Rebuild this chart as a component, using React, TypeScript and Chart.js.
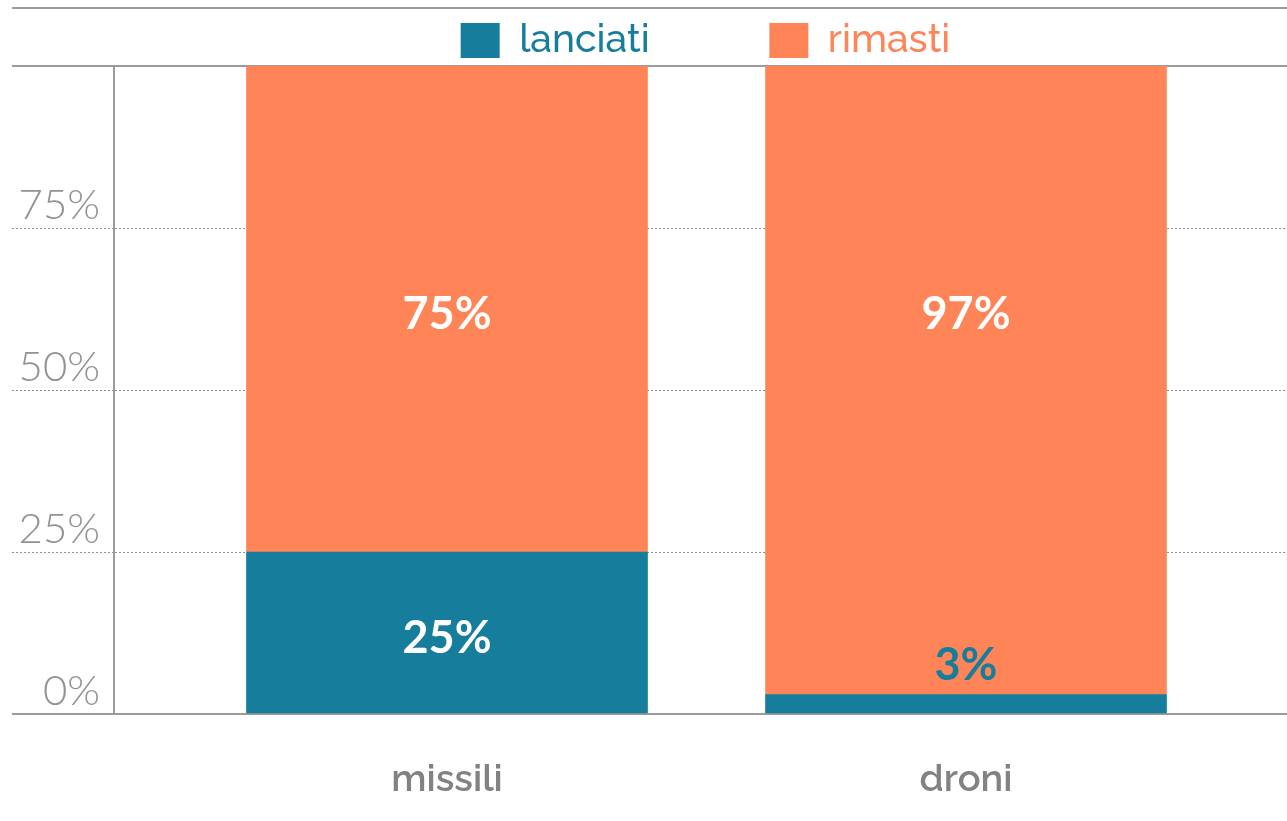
import React, { useEffect, useRef } from 'react';
import { Chart, registerables } from 'chart.js';

Chart.register(...registerables);

const categories = ['missili', 'droni'];
const seriesLabels = ['lanciati', 'rimasti'];
const lanciati = [25, 3];
const rimasti = [75, 97];
const yTicks = [0, 25, 50, 75, 100];

const TEAL = '#167D9C';
const ORANGE = '#FF8559';
const LINE_GRAY = '#9b9b9b';
const FONT = 'Raleway, Lato, "Open Sans", sans-serif';
const NUM_FONT = 'Lato, "Open Sans", sans-serif';

export default function App() {
  const ref = useRef<HTMLCanvasElement | null>(null);

  useEffect(() => {
    document.body.style.margin = '0';
    if (!ref.current) return;

    const topRule = {
      id: 'topRule',
      afterLayout(chart: any) {
        // centre the legend over the plot area
        const lg = chart.legend;
        if (lg) {
          lg.left = chart.chartArea.left + 10;
        }
      },
      afterDraw(chart: any) {
        const { ctx } = chart;
        ctx.save();
        ctx.strokeStyle = LINE_GRAY;
        ctx.lineWidth = 2;
        ctx.beginPath();
        ctx.moveTo(12, 8);
        ctx.lineTo(chart.width, 8);
        ctx.stroke();
        ctx.restore();
      },
    };

    const valueLabels = {
      id: 'valueLabels',
      afterDatasetsDraw(chart: any) {
        const { ctx } = chart;
        const yScale = chart.scales.y;
        const metaL = chart.getDatasetMeta(0);
        const metaR = chart.getDatasetMeta(1);
        ctx.save();
        ctx.font = `bold 45px ${NUM_FONT}`;
        ctx.textAlign = 'center';
        ctx.textBaseline = 'alphabetic';
        const maxL = Math.max(...lanciati);
        const rimY = yScale.getPixelForValue((100 + maxL) / 2);
        metaR.data.forEach((el: any, i: number) => {
          ctx.fillStyle = '#ffffff';
          ctx.fillText(rimasti[i] + '%', el.x, rimY + 20);
        });
        metaL.data.forEach((el: any, i: number) => {
          const h = el.base - el.y;
          if (h > 60) {
            ctx.fillStyle = '#ffffff';
            ctx.fillText(lanciati[i] + '%', el.x, (el.y + el.base) / 2 + 20);
          } else {
            ctx.fillStyle = TEAL;
            ctx.fillText(lanciati[i] + '%', el.x, el.y - 15);
          }
        });
        ctx.restore();
      },
    };

    const isSolid = (c: any) => !c.tick || c.tick.value % 100 === 0;

    const chart = new Chart(ref.current, {
      type: 'bar',
      data: {
        datasets: [
          {
            label: seriesLabels[0],
            data: lanciati.map((v, i) => ({ x: i, y: v })),
            backgroundColor: TEAL,
            barThickness: 401,
          },
          {
            label: seriesLabels[1],
            data: rimasti.map((v, i) => ({ x: i, y: v })),
            backgroundColor: ORANGE,
            barThickness: 401,
          },
        ],
      } as any,
      options: {
        animation: false,
        responsive: true,
        maintainAspectRatio: false,
        layout: { padding: { left: 0, top: 0, right: 0, bottom: 0 } },
        plugins: {
          tooltip: { enabled: false },
          legend: {
            position: 'top',
            align: 'center',
            maxHeight: 66,
            labels: {
              boxWidth: 39,
              boxHeight: 35,
              padding: 21,
              textAlign: 'left',
              font: { family: FONT, size: 39, weight: 500 },
              generateLabels: (ch: any) =>
                ch.data.datasets.map((ds: any, i: number) => ({
                  text: i === 0 ? ds.label + ' '.repeat(10) : ds.label,
                  fillStyle: ds.backgroundColor,
                  strokeStyle: ds.backgroundColor,
                  lineWidth: 0,
                  fontColor: ds.backgroundColor,
                  datasetIndex: i,
                  hidden: false,
                })),
            },
          },
        },
        scales: {
          x: {
            type: 'linear',
            stacked: true,
            offset: false,
            min: (114 - 447) / 519,
            max: (1287 - 447) / 519,
            afterBuildTicks: (s: any) => {
              s.ticks = categories.map((_, i) => ({ value: i }));
            },
            afterFit: (s: any) => {
              s.height = 107;
            },
            grid: { display: false, offset: false },
            border: { display: false },
            ticks: {
              callback: (v: any) => categories[v] ?? '',
              color: '#828282',
              font: { family: FONT, size: 38, weight: 600 },
              padding: 35,
              maxRotation: 0,
              autoSkip: false,
            },
          },
          y: {
            stacked: true,
            min: 0,
            max: 100,
            afterFit: (s: any) => {
              s.width = 114;
            },
            afterBuildTicks: (s: any) => {
              s.ticks = yTicks.map((v) => ({ value: v }));
            },
            ticks: {
              callback: (v: any) => (v === 100 ? '' : v + '%'),
              color: '#929292',
              font: { family: NUM_FONT, size: 42, weight: 300 },
              padding: -88,
              labelOffset: -23,
            },
            grid: {
              color: (c: any) => (isSolid(c) ? LINE_GRAY : '#8c8c8c'),
              lineWidth: (c: any) => (isSolid(c) ? 2 : 1),
              tickLength: 102,
              tickColor: (c: any) => (isSolid(c) ? LINE_GRAY : '#8c8c8c'),
              tickWidth: (c: any) => (isSolid(c) ? 2 : 1),
              tickBorderDash: (c: any) => (isSolid(c) ? [] : [2, 2]),
            },
            border: {
              display: true,
              color: LINE_GRAY,
              width: 2,
              dash: (c: any) => (c.type === 'tick' && !isSolid(c) ? [2, 2] : []),
            },
          },
        },
      } as any,
      plugins: [topRule, valueLabels],
    });

    return () => chart.destroy();
  }, []);

  return (
    <div style={{ width: 1287, height: 821, position: 'relative' }}>
      <canvas ref={ref} />
    </div>
  );
}
